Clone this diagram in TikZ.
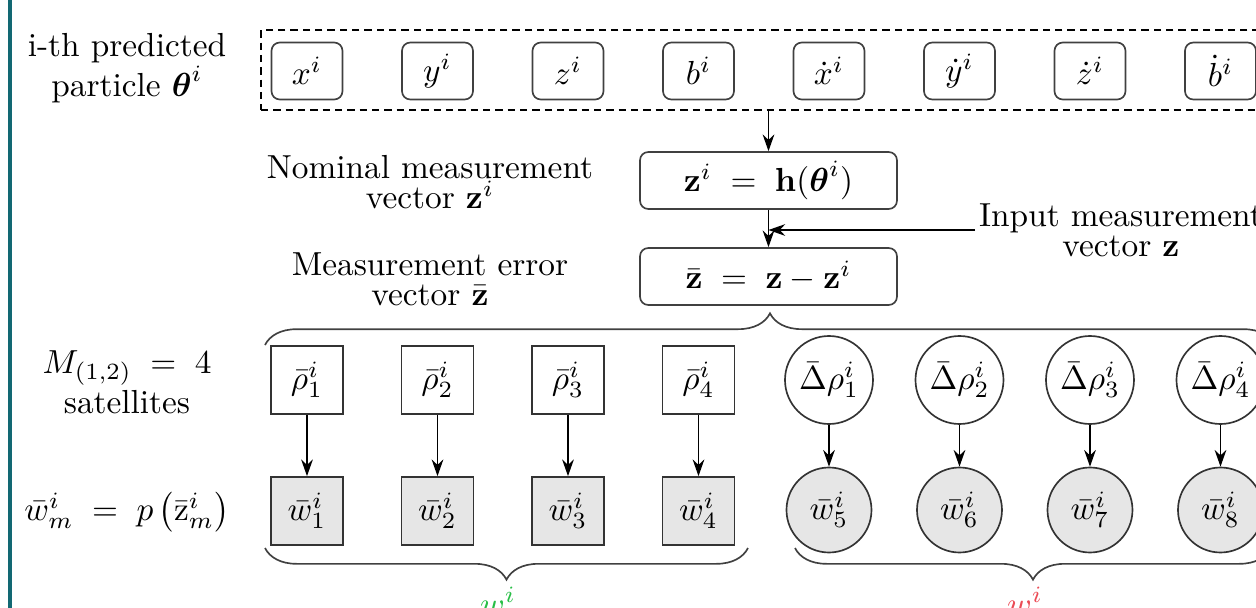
\documentclass[tikz,border=0pt]{standalone}
\usepackage{amsmath,amssymb}
\usetikzlibrary{arrows.meta, positioning, calc, shapes, decorations.pathreplacing}
\definecolor{edgeteal}{RGB}{18,104,115}
\definecolor{softgreen}{RGB}{40,190,70}
\definecolor{softred}{RGB}{235,75,85}
\definecolor{cellgray}{RGB}{230,230,230}

\begin{document}
\begin{tikzpicture}[x=0.3pt, y=-0.3pt, line width=0.5pt, >={Stealth[length=5pt,width=3.5pt]},
  statebox/.style={draw=black!75, rounded corners=2.5pt, minimum width=21.3pt, minimum height=17.1pt, inner sep=0pt},
  eqbox/.style={draw=black!75, rounded corners=2.5pt, minimum width=77.1pt, minimum height=17.1pt, inner sep=0pt},
  obsbox/.style={draw=black!80, minimum width=21.6pt, minimum height=20.4pt, inner sep=0pt},
  wbox/.style={obsbox, fill=cellgray},
  obscirc/.style={draw=black!80, circle, minimum size=26.4pt, inner sep=0pt},
  wcirc/.style={draw=black!80, circle, fill=cellgray, minimum size=25.5pt, inner sep=0pt},
  sidetext/.style={align=center, inner sep=1pt},
  bracket/.style={decorate, decoration={brace, amplitude=9.5pt}, draw=black!75}]
  \useasboundingbox (0,0) rectangle (1256,608);
  \clip (0,0) rectangle (1256,608);
  \draw[edgeteal, line width=1pt] (10,0) -- (10,608);

  \node[sidetext] (parttxt) at (127,68) {i-th predicted\\particle $\boldsymbol{\theta}^i$};
  \node[draw, dash pattern=on 2.2pt off 1.5pt, minimum width=311.7pt, minimum height=24pt, inner sep=0pt] (part) at (780.5,70) {};
  \foreach \t [count=\k] in {x^i, y^i, z^i, b^i, \dot{x}^i, \dot{y}^i, \dot{z}^i, \dot{b}^i} {
    \node[statebox] (s\k) at ({176.5+130.5*\k},71) {$\t$};
  }

  \node[sidetext] (nomtxt) at (430,182) {Nominal measurement\\[-3pt]vector $\mathbf{z}^i$};
  \node[eqbox] (zi) at (768.5,180.5) {$\mathbf{z}^i \;=\; \mathbf{h}(\boldsymbol{\theta}^i)$};
  \node[sidetext] (errtxt) at (430,279) {Measurement error\\[-3pt]vector $\bar{\mathbf{z}}$};
  \node[eqbox] (zbar) at (768.5,276.5) {$\bar{\mathbf{z}} \;=\; \mathbf{z} - \mathbf{z}^i$};
  \node[sidetext, anchor=west] (inp) at (975,230) {Input measurement\\[-3pt]vector $\mathbf{z}$};
  \draw[->] (part.south -| zi.north) -- (zi.north);
  \draw[->] (zi) -- (zbar);
  \draw[->] (inp.west) -- (inp.west -| zi.south);

  \node[sidetext] (sattxt) at (127,382) {$M_{(1,2)} \;=\; 4$\\satellites};
  \node[sidetext] (wtxt) at (127,512) {$\bar{w}^i_m \;=\; p\left(\bar{\mathrm{z}}^i_m\right)$};
  \foreach \k in {1,...,4} {
    \node[obsbox] (r\k) at ({176.5+130.5*\k},380) {$\bar{\rho}^i_{\k}$};
    \node[wbox] (w\k) at ({176.5+130.5*\k},511) {$\bar{w}^i_{\k}$};
  }
  \foreach \k/\j in {5/1, 6/2, 7/3, 8/4} {
    \node[obscirc] (r\k) at ({176.5+130.5*\k},380) {$\bar{\Delta}\rho^i_{\j}$};
    \node[wcirc] (w\k) at ({176.5+130.5*\k},510) {$\bar{w}^i_{\k}$};
  }
  \foreach \k in {1,...,8} \draw[->] (r\k) -- (w\k);

  \coordinate (tb1) at (265,345); \coordinate (tb2) at (1275,345);
  \coordinate (lb1) at (748,548); \coordinate (lb2) at (265,548);
  \coordinate (rb1) at (1271,548); \coordinate (rb2) at (795,548);
  \draw[bracket] (tb1) -- (tb2);
  \draw[bracket] (lb1) -- (lb2);
  \draw[bracket] (rb1) -- (rb2);
  \node[softgreen, anchor=base] (wgreen) at (498,615) {$w^i$};
  \node[softred, anchor=base] (wred) at (1025,615) {$w^i$};
\end{tikzpicture}
\end{document}
